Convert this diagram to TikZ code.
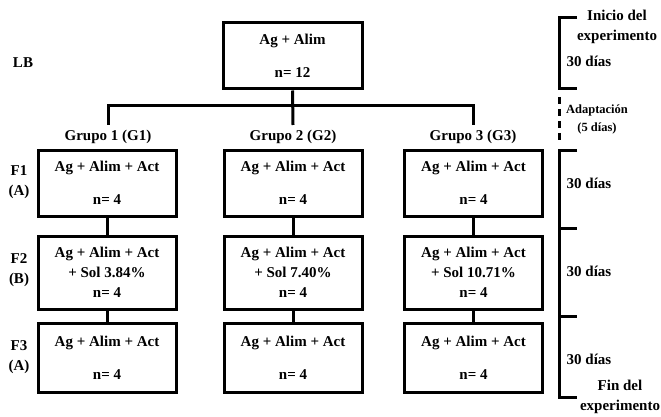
\documentclass[tikz,border=0pt]{standalone}
\usepackage{fontspec}
\setmainfont{Liberation Serif}
\begin{document}
\begin{tikzpicture}[x=1pt,y=-1pt,
  txt/.style={font=\fontsize{15}{20}\selectfont\bfseries},
  box/.style={txt, draw, line width=3pt, minimum width=138pt, inner sep=0pt, align=center},
  lbl/.style={txt, inner sep=0pt, align=center},
  small/.style={font=\fontsize{12.5}{18}\selectfont\bfseries, inner sep=0pt, align=center},
  conn/.style={line width=3pt, line join=miter},
  tl/.style={line width=3pt, line join=miter}]
\useasboundingbox (0,0) rectangle (661,417);
% top box
\node[box, minimum width=139pt, minimum height=66pt] (top) at (292.5,56) {Ag + Alim\\[13pt]n= 12};
\node[lbl] (lb) at (23,63) {LB};
% branch
\coordinate (bar) at (293,106);
\coordinate (h1) at (108,125);
\coordinate (h2) at (293,125);
\coordinate (h3) at (473,125);
\draw[conn] (top.south) -- (h2);
\draw[conn] (h1) -- (h1 |- bar) -- (h3 |- bar) -- (h3);
% group labels
\node[lbl] (g1) at (108,137) {Grupo 1 (G1)};
\node[lbl] (g2) at (293,137) {Grupo 2 (G2)};
\node[lbl] (g3) at (473,137) {Grupo 3 (G3)};
% row 1
\node[box, minimum height=66pt] (a1) at (107,183) {Ag + Alim + Act\\[13pt]n= 4};
\node[box, minimum height=66pt] (b1) at (293,183) {Ag + Alim + Act\\[13pt]n= 4};
\node[box, minimum height=66pt] (c1) at (473.5,183) {Ag + Alim + Act\\[13pt]n= 4};
% row 2
\node[box, minimum height=73pt] (a2) at (107,272.5) {Ag + Alim + Act\\+ Sol 3.84\%\\n= 4};
\node[box, minimum height=73pt] (b2) at (293,272.5) {Ag + Alim + Act\\+ Sol 7.40\%\\n= 4};
\node[box, minimum height=73pt] (c2) at (473.5,272.5) {Ag + Alim + Act\\+ Sol 10.71\%\\n= 4};
% row 3
\node[box, minimum height=69pt] (a3) at (107,357.5) {Ag + Alim + Act\\[13pt]n= 4};
\node[box, minimum height=69pt] (b3) at (293,357.5) {Ag + Alim + Act\\[13pt]n= 4};
\node[box, minimum height=69pt] (c3) at (473.5,357.5) {Ag + Alim + Act\\[13pt]n= 4};
% vertical connectors
\foreach \u/\v in {a1/a2,a2/a3,b1/b2,b2/b3,c1/c2,c2/c3}
  \draw[conn] (\u.south) -- (\v.north);
% left labels
\node[lbl] (f1) at (19,182) {F1\\(A)};
\node[lbl] (f2) at (19,270) {F2\\(B)};
\node[lbl] (f3) at (19,357) {F3\\(A)};
% timeline
\coordinate (t0) at (559,18);
\coordinate (t1) at (559,89);
\coordinate (d0) at (559,97);
\coordinate (d1) at (559,143);
\coordinate (t2) at (559,150);
\coordinate (t3) at (559,228);
\coordinate (t4) at (559,316);
\coordinate (t5) at (559,397);
\draw[tl] ([xshift=18pt]t0) -- (t0) -- (t1) -- ([xshift=18pt]t1);
\draw[line width=3pt, dash pattern=on 7pt off 5pt] (d0) -- (d1);
\draw[tl] ([xshift=18pt]t2) -- (t2) -- (t5) -- ([xshift=18pt]t5);
\draw[tl] (t3) -- ([xshift=18pt]t3);
\draw[tl] (t4) -- ([xshift=18pt]t4);
% timeline labels
\node[lbl] (ini) at (617,27) {Inicio del\\experimento};
\node[lbl] (p1) at (589,61) {30 días};
\node[small] (ad) at (597,119) {Adaptación\\(5 días)};
\node[lbl] (p2) at (589,183) {30 días};
\node[lbl] (p3) at (589,271) {30 días};
\node[lbl] (p4) at (589,359) {30 días};
\node[lbl] (fin) at (620,397) {Fin del\\experimento};
\end{tikzpicture}
\end{document}
